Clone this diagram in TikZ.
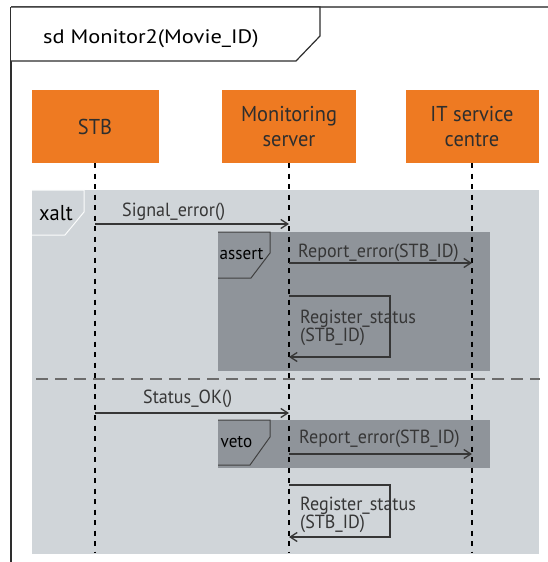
\documentclass[tikz,border=0pt]{standalone}
\usepackage{fontspec}
\setmainfont{PT Sans}[FakeStretch=0.95]
\newfontfamily\titlefont{PT Sans}[FakeStretch=1.15]
\usetikzlibrary{arrows.meta}

\definecolor{boxorange}{HTML}{EE7A22}
\definecolor{regionlight}{HTML}{D0D5D9}
\definecolor{regiondark}{HTML}{8F949A}
\definecolor{inkgray}{HTML}{2E2E2E}
\definecolor{msggray}{HTML}{363636}
\definecolor{framegray}{HTML}{6B6B6B}

\begin{document}
\begin{tikzpicture}[x=1pt,y=-1pt,
  lifebox/.style={fill=boxorange, minimum width=#1, minimum height=73,
    inner sep=0pt, align=center, text=inkgray,
    font=\fontsize{21.5}{24.5}\selectfont},
  lifeline/.style={draw=black, line width=1.2pt, dash pattern=on 5pt off 5.5pt},
  msg/.style={draw=msggray, line width=1.3pt,
    -{Straight Barb[length=7pt,width=9pt,line width=1.3pt]}},
  msglabel/.style={text=msggray, inner sep=0pt,
    font=\fontsize{19}{17.5}\selectfont},
  fraglabel/.style={text=black, inner sep=0pt,
    font=\fontsize{18}{18}\selectfont},
  fragtab/.style={draw=black!75, line width=1pt, fill=regiondark},
  separator/.style={draw=framegray, line width=1.5pt, dash pattern=on 12pt off 7pt},
]
\useasboundingbox (0,0) rectangle (548,562);

% outer diagram frame
\draw[draw=framegray, line width=2pt] (11,7) -- (548,7);
\draw[draw=inkgray, line width=1.5pt] (11,7) -- (11,562);

% title tab
\draw[draw=inkgray, line width=1.2pt, fill=white]
  (11,7) -- (320,7) -- (320,36) -- (296,61) -- (11,61);
\node[anchor=base west, inner sep=0pt, text=black,
  font=\titlefont\fontsize{19.5}{20}\selectfont] (title) at (43,43) {sd Monitor2(Movie\_ID)};

% combined fragment regions
\fill[regionlight] (32,190) rectangle (539,554);
\fill[regiondark] (218,232) rectangle (490,371);
\fill[regiondark] (218,420) rectangle (490,468);

% lifeline heads
\node[lifebox=127] (stb) at (95,126.5) {STB};
\node[lifebox=134] (mon) at (289,126.5) {Monitoring\\server};
\node[lifebox=133] (itc) at (472,126.5) {IT service\\centre};

% lifelines
\coordinate (bottom) at (0,553);
\draw[lifeline] (stb.south) -- (stb.south |- bottom);
\draw[lifeline] (mon.south) -- (mon.south |- bottom);
\draw[lifeline] (itc.south) -- (itc.south |- bottom);

% xalt tab and operand separator
\draw[draw=white!92!regionlight, line width=1pt, fill=regionlight]
  (32,190) -- (84,190) -- (84,212) -- (65,235) -- (32,235);
\node[anchor=base west, inner sep=0pt, text=black,
  font=\fontsize{21.5}{20}\selectfont] (xalt) at (39,220) {xalt};
\draw[separator] (36,379) -- (540,379);

% assert and veto tabs
\draw[fragtab] (218,232) -- (270,232) -- (270,253) -- (251,278) -- (218,278);
\node[fraglabel, anchor=base west] (assert) at (219.5,259) {assert};
\draw[fragtab] (218,420) -- (270,420) -- (270,437) -- (250,465) -- (218,465);
\node[fraglabel, anchor=base west] (veto) at (220.5,447) {veto};

% message heights
\coordinate (y1) at (0,224);
\coordinate (y2) at (0,263);
\coordinate (y3) at (0,296);
\coordinate (y4) at (0,357);
\coordinate (y5) at (0,413);
\coordinate (y6) at (0,454);
\coordinate (y7) at (0,485);
\coordinate (y8) at (0,537);
\coordinate (selfA1) at (390,296);
\coordinate (selfA2) at (390,357);
\coordinate (selfB1) at (390,485);
\coordinate (selfB2) at (390,537);

% first operand
\draw[msg] (stb.south |- y1) -- (mon.south |- y1);
\node[msglabel, anchor=base west] (m1) at (122,216) {Signal\_error()};
\draw[msg] (mon.south |- y2) -- (itc.south |- y2);
\node[msglabel, anchor=base west] (m2) at (298,257) {Report\_error(STB\_ID)};
\draw[msg] (mon.south |- y3) -- (selfA1) -- (selfA2) -- (mon.south |- y4);
\node[msglabel, anchor=north west, align=left] (m3) at (300,309.5)
  {Register\_status\\(STB\_ID)};

% second operand
\draw[msg] (stb.south |- y5) -- (mon.south |- y5);
\node[msglabel, anchor=base west] (m4) at (143,403) {Status\_OK()};
\draw[msg] (mon.south |- y6) -- (itc.south |- y6);
\node[msglabel, anchor=base west] (m5) at (299,443) {Report\_error(STB\_ID)};
\draw[msg] (mon.south |- y7) -- (selfB1) -- (selfB2) -- (mon.south |- y8);
\node[msglabel, anchor=north west, align=left] (m6) at (300,496.5)
  {Register\_status\\(STB\_ID)};
\end{tikzpicture}
\end{document}
